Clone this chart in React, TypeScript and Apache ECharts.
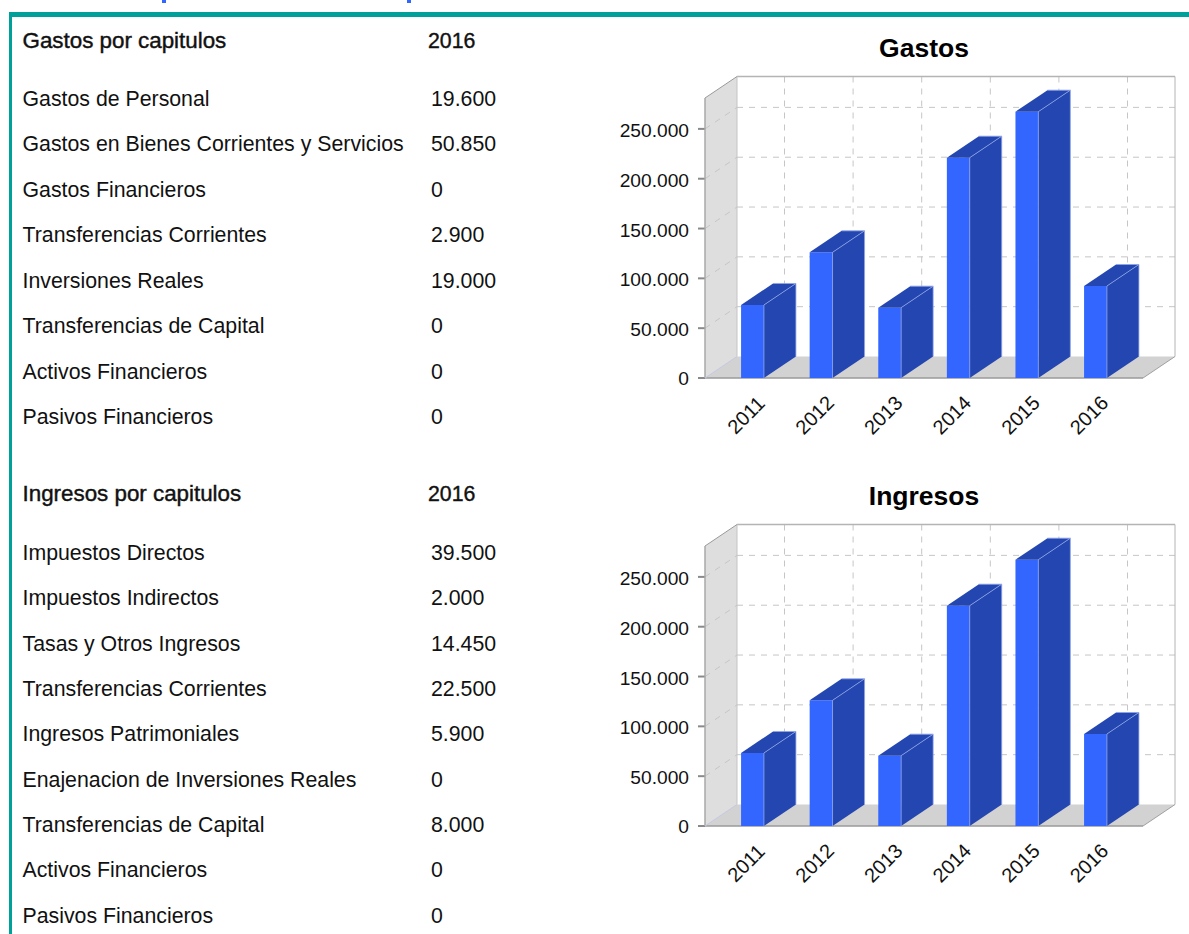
import React, { useEffect, useRef } from "react";
import * as echarts from "echarts";

const years = ["2011", "2012", "2013", "2014", "2015", "2016"];
const gastosTotals = [73300, 126100, 70600, 221100, 267300, 92350];
const ingresosTotals = [73300, 126100, 70600, 221100, 267300, 92350];
const yTicks = [0, 50000, 100000, 150000, 200000, 250000];
const yTickLabels = ["0", "50.000", "100.000", "150.000", "200.000", "250.000"];
const Y_MAX = 281000;

const gastosLabels = ["Gastos de Personal", "Gastos en Bienes Corrientes y Servicios", "Gastos Financieros", "Transferencias Corrientes", "Inversiones Reales", "Transferencias de Capital", "Activos Financieros", "Pasivos Financieros"];
const gastosValues = ["19.600", "50.850", "0", "2.900", "19.000", "0", "0", "0"];
const gastosRowY = [99, 144.5, 190, 235, 281, 326, 372, 417];
const ingresosLabels = ["Impuestos Directos", "Impuestos Indirectos", "Tasas y Otros Ingresos", "Transferencias Corrientes", "Ingresos Patrimoniales", "Enajenacion de Inversiones Reales", "Transferencias de Capital", "Activos Financieros", "Pasivos Financieros"];
const ingresosValues = ["39.500", "2.000", "14.450", "22.500", "5.900", "0", "8.000", "0", "0"];
const ingresosRowY = [553, 598, 644, 689, 734, 780, 825, 870, 916];

const FONT = '"Liberation Sans", Arial, sans-serif';
const DX = 32, DY = 21.5;
const FRONT = "#3366ff", DARK = "#2346b0", EDGE = "#8fa3e8";
const PLOT_LEFT = 718.2, PLOT_W = 411.6, PLOT_H = 280;
const OUT_L = 13.2, OUT_R = 13.2;

function poly(points: number[][], fill: string, stroke?: string, z2 = 0) {
  return { type: "polygon", z2, shape: { points }, style: { fill, stroke: stroke || "none", lineWidth: stroke ? 1 : 0 } };
}
function seg(x1: number, y1: number, x2: number, y2: number, stroke: string, dash?: number[], lw = 1) {
  return { type: "line", shape: { x1, y1, x2, y2 }, style: { stroke, lineWidth: lw, lineDash: dash || undefined, fill: "none" } };
}

const frameItem = (_p: any, api: any) => {
  const [x0] = api.coord([0, 0]);
  const band = api.size([1, 0])[0];
  const xL = x0 - band / 2 - OUT_L;
  const xR = x0 + band * 5.5 + OUT_R;
  const y0 = api.coord([0, 0])[1];
  const yT = api.coord([0, Y_MAX])[1];
  const dash = [6, 6];
  const grid = "#c6c6c6";
  const ch: any[] = [
    poly([[xL + DX, yT - DY], [xR + DX, yT - DY], [xR + DX, y0 - DY], [xL + DX, y0 - DY]], "#ffffff"),
    poly([[xL, yT], [xL + DX, yT - DY], [xL + DX, y0 - DY], [xL, y0]], "#dedede"),
    poly([[xL, y0], [xL + DX, y0 - DY], [xR + DX, y0 - DY], [xR, y0]], "#d2d2d2"),
  ];
  yTicks.slice(1).forEach((v) => {
    const y = api.coord([0, v])[1];
    ch.push(seg(xL, y, xL + DX, y - DY, grid, dash));
    ch.push(seg(xL + DX, y - DY, xR + DX, y - DY, grid, dash));
  });
  years.forEach((year, i) => {
    const x = api.coord([i, 0])[0];
    ch.push(seg(x + DX, yT - DY, x + DX, y0 - DY, grid, dash));
    ch.push({
      type: "text", x: x - 6.5, y: y0 + 37, rotation: Math.PI / 4,
      style: { text: year, fill: "#111", font: `normal 20px ${FONT}`, textAlign: "center", textVerticalAlign: "middle" },
    });
  });
  yTicks.forEach((v, i) => {
    const y = api.coord([0, v])[1];
    ch.push(seg(xL - 7, y, xL, y, "#8a8a8a", undefined, 2));
    ch.push({
      type: "text", x: xL - 16, y: y + (i === 0 ? 0.5 : 1.5),
      style: { text: yTickLabels[i], fill: "#111", font: `normal 19.2px ${FONT}`, textAlign: "right", textVerticalAlign: "middle" },
    });
  });
  ch.push(seg(xL + DX, yT - DY, xR + DX, yT - DY, "#b4b4b4", undefined, 1.5));
  ch.push(seg(xR + DX, yT - DY, xR + DX, y0 - DY, "#b4b4b4"));
  ch.push(seg(xL + DX, yT - DY, xL + DX, y0 - DY, "#c4c4c4"));
  ch.push(seg(xL, yT, xL + DX, yT - DY, "#9a9a9a"));
  ch.push(seg(xL, yT, xL, y0, "#a8a8a8", undefined, 1.5));
  ch.push(seg(xR, y0, xR + DX, y0 - DY, "#a0a0a0"));
  ch.push(seg(xL, y0, xR, y0, "#9a9a9a", undefined, 1.5));
  ch.push(seg(xL, y0, xL + DX, y0 - DY, "#c4c8e0"));
  return { type: "group", children: ch };
};

const barItem = (_p: any, api: any) => {
  const i = api.value(0);
  const [cx, yTop] = api.coord([i, api.value(1)]);
  const y0 = api.coord([i, 0])[1];
  const w = api.size([1, 0])[0] / 3;
  const l = cx - w / 2, r = cx + w / 2;
  return {
    type: "group",
    children: [
      poly([[l, y0], [r, y0], [r, yTop], [l, yTop]], FRONT),
      poly([[r, y0], [r + DX, y0 - DY], [r + DX, yTop - DY], [r, yTop]], DARK),
      poly([[l, yTop], [r, yTop], [r + DX, yTop - DY], [l + DX, yTop - DY]], DARK),
      seg(r, yTop, r + DX, yTop - DY, EDGE, undefined, 0.8),
      seg(r, yTop, r, y0, EDGE, undefined, 0.8),
      seg(l + DX, yTop - DY, r + DX, yTop - DY, EDGE, undefined, 0.8),
      seg(r + DX, yTop - DY, r + DX, y0 - DY, EDGE, undefined, 0.8),
    ],
  };
};

function text(x: number, y: number, t: string, heavy = false, scaleX = 1) {
  return {
    type: "text", x, y: y - 0.5, scaleX,
    style: {
      text: t, fill: "#111", font: `normal 21.3px ${FONT}`, textAlign: "left", textVerticalAlign: "middle",
      ...(heavy ? { stroke: "#111", lineWidth: 0.4 } : {}),
    },
  };
}

function tableTexts(title: string, titleY: number, labels: string[], values: string[], rows: number[]) {
  const out: any[] = [text(22.5, titleY, title, true, 1.05), text(428, titleY, "2016", true)];
  labels.forEach((l, i) => {
    out.push(text(22.5, rows[i], l));
    out.push(text(431, rows[i], values[i]));
  });
  return out;
}

function gridPair(top: number) {
  return {
    grid: { left: PLOT_LEFT, width: PLOT_W, top, height: PLOT_H, containLabel: false },
    xAxis: {
      type: "category", data: years, axisLine: { show: false }, axisTick: { show: false }, axisLabel: { show: false },
    },
    yAxis: {
      type: "value", min: 0, max: Y_MAX, interval: 50000, splitLine: { show: false },
      axisLine: { show: false }, axisTick: { show: false }, axisLabel: { show: false },
    },
  };
}

export default function App() {
  const ref = useRef<HTMLDivElement>(null);
  useEffect(() => {
    const chart = echarts.init(ref.current!, undefined, { renderer: "svg" });
    const a = gridPair(98), b = gridPair(546);
    const titleStyle = { fontSize: 26.5, fontWeight: "bold", color: "#000", fontFamily: FONT };
    chart.setOption({
      animation: false,
      backgroundColor: "#ffffff",
      title: [
        { text: "Gastos", left: 919, top: 43, textAlign: "center", textVerticalAlign: "middle", textStyle: titleStyle },
        { text: "Ingresos", left: 919, top: 491, textAlign: "center", textVerticalAlign: "middle", textStyle: titleStyle },
      ],
      grid: [a.grid, b.grid],
      xAxis: [{ ...a.xAxis, gridIndex: 0 }, { ...b.xAxis, gridIndex: 1 }],
      yAxis: [{ ...a.yAxis, gridIndex: 0 }, { ...b.yAxis, gridIndex: 1 }],
      series: [
        { type: "custom", xAxisIndex: 0, yAxisIndex: 0, renderItem: frameItem, data: [[0, 0]], z: 1, silent: true, clip: false },
        { type: "custom", xAxisIndex: 1, yAxisIndex: 1, renderItem: frameItem, data: [[0, 0]], z: 1, silent: true, clip: false },
        { type: "custom", name: "Gastos", xAxisIndex: 0, yAxisIndex: 0, renderItem: barItem, data: gastosTotals.map((v, i) => [i, v]), z: 2, clip: false },
        { type: "custom", name: "Ingresos", xAxisIndex: 1, yAxisIndex: 1, renderItem: barItem, data: ingresosTotals.map((v, i) => [i, v]), z: 2, clip: false },
      ],
      graphic: [
        { type: "rect", shape: { x: 9, y: 12, width: 1180, height: 5 }, style: { fill: "#00a09a" } },
        { type: "rect", shape: { x: 9, y: 12, width: 3, height: 922 }, style: { fill: "#00a09a" } },
        { type: "rect", shape: { x: 162, y: 0, width: 4, height: 3 }, style: { fill: "#3366ff" } },
        { type: "rect", shape: { x: 407, y: 0, width: 4, height: 3 }, style: { fill: "#3366ff" } },
        ...tableTexts("Gastos por capitulos", 41, gastosLabels, gastosValues, gastosRowY),
        ...tableTexts("Ingresos por capitulos", 494, ingresosLabels, ingresosValues, ingresosRowY),
      ],
    });
    return () => chart.dispose();
  }, []);
  return <div ref={ref} style={{ position: "absolute", left: 0, top: 0, width: 1189, height: 934 }} />;
}
